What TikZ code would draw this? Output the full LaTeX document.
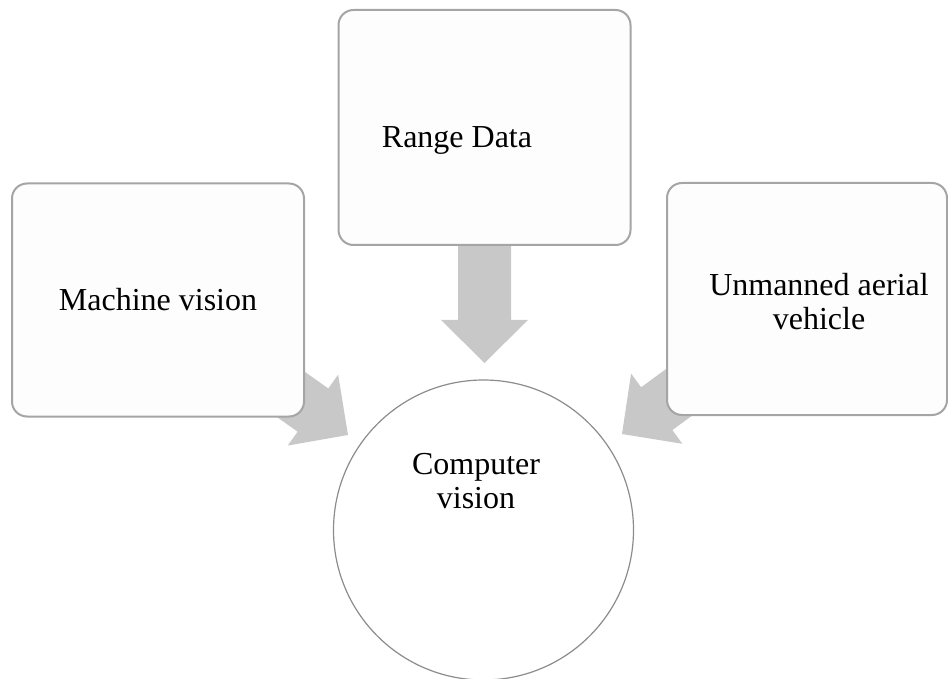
\documentclass[tikz,border=0pt]{standalone}
\usepackage{fontspec}
\setmainfont{Liberation Serif}
\usetikzlibrary{calc,backgrounds}

\definecolor{boxline}{RGB}{165,165,165}
\definecolor{boxfill}{RGB}{253,253,253}
\definecolor{arrowgray}{RGB}{200,200,200}
\definecolor{circline}{RGB}{140,140,140}

\tikzset{
	box/.style={draw=boxline,fill=boxfill,line width=1pt,rounded corners=7.5pt,
		inner sep=0pt,outer sep=0pt,align=center},
	txt/.style={align=center,font=\fontsize{16}{17}\selectfont},
	% wide grey block arrow from a node centre to a tip coordinate
	blockarrow/.style={fill=arrowgray,to path={
		let \p1=($(\tikztotarget)-(\tikztostart)$), \n1={atan2(\y1,\x1)} in
		($(\tikztostart)+(\n1+90:13.25pt)$)
		-- ($(\tikztotarget)+(\n1+180:21.5pt)+(\n1+90:13.25pt)$)
		-- ($(\tikztotarget)+(\n1+180:21.5pt)+(\n1+90:21.75pt)$)
		-- (\tikztotarget)
		-- ($(\tikztotarget)+(\n1+180:21.5pt)+(\n1-90:21.75pt)$)
		-- ($(\tikztotarget)+(\n1+180:21.5pt)+(\n1-90:13.25pt)$)
		-- ($(\tikztostart)+(\n1-90:13.25pt)$) -- cycle}}
}

\begin{document}
\begin{tikzpicture}[x=0.5pt,y=-0.5pt]
	\useasboundingbox (0,0) rectangle (948,679);

	\node[box,txt,minimum width=146pt,minimum height=116.5pt] (mv) at (158,300) {Machine vision};
	\node[box,minimum width=146pt,minimum height=117.5pt] (rd) at (484.5,127.5) {};
	\node[txt] (rdtext) at (457,140) {Range Data};
	\node[box,minimum width=140pt,minimum height=116pt] (uav) at (807,299) {};
	\node[txt] (uavtext) at (819,302) {Unmanned aerial\\vehicle};
	\node[circle,draw=circline,fill=white,line width=0.6pt,minimum size=150pt,inner sep=0pt] (cv) at (483.5,530) {};
	\node[txt] (cvtext) at (476,481) {Computer\\vision};

	\coordinate (mvtip) at (348,435);
	\coordinate (rdtip) at (484.5,363);
	\coordinate (uavtip) at (622,434);

	\begin{scope}[on background layer]
		\foreach \s/\t in {mv/mvtip,rd/rdtip,uav/uavtip}
			\path[blockarrow] (\s.center) to (\t);
	\end{scope}
\end{tikzpicture}
\end{document}
